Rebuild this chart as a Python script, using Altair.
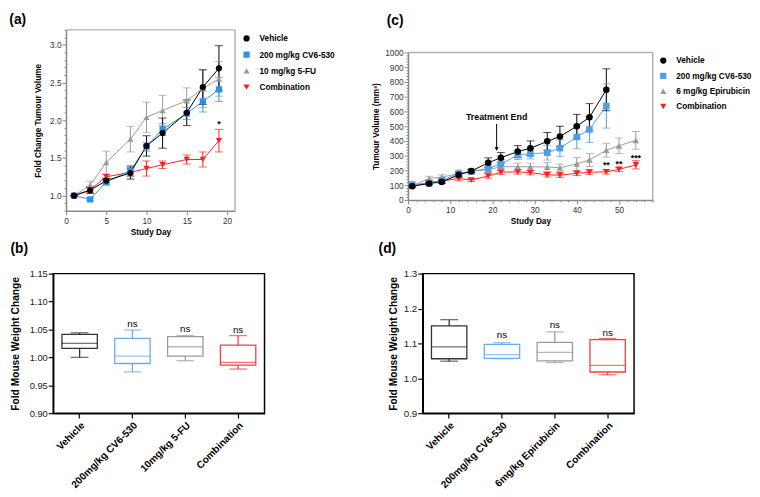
import altair as alt
import pandas as pd

FONT = "Liberation Sans"

# ---------------- Panel (a): fold change tumour volume ----------------
groups_a = ["Vehicle", "200 mg/kg CV6-530", "10 mg/kg 5-FU", "Combination"]
days_a = [1, 3, 5, 8, 10, 12, 15, 17, 19]
veh_a = [1.00, 1.07, 1.20, 1.30, 1.66, 1.83, 2.10, 2.44, 2.69]
veh_a_sem = [0.0, 0.04, 0.03, 0.08, 0.135, 0.20, 0.17, 0.23, 0.30]
cv6_a = [1.00, 0.95, 1.18, 1.33, 1.65, 1.88, 2.09, 2.25, 2.41]
cv6_a_sem = [0.0, 0.02, 0.04, 0.07, 0.06, 0.08, 0.08, 0.14, 0.16]
fu_a = [1.00, 1.14, 1.44, 1.75, 2.04, 2.13, 2.26, 2.42, 2.55]
fu_a_sem = [0.0, 0.05, 0.15, 0.17, 0.20, 0.20, 0.17, 0.25, 0.23]
comb_a = [1.00, 1.08, 1.25, 1.31, 1.36, 1.41, 1.48, 1.48, 1.73]
comb_a_sem = [0.0, 0.04, 0.03, 0.05, 0.10, 0.05, 0.06, 0.10, 0.15]
star_a_day = [19]
star_a_y = [1.95]
star_a_txt = ["*"]
xdom_a = [0, 21]
ydom_a = [0.8, 3.2]
xticks_a = [0, 5, 10, 15, 20]
yticks_a = [1.0, 1.5, 2.0, 2.5, 3.0]
yminor_a = [0.8, 0.9, 1.1, 1.2, 1.3, 1.4, 1.6, 1.7, 1.8, 1.9, 2.1, 2.2, 2.3, 2.4,
            2.6, 2.7, 2.8, 2.9, 3.1, 3.2]

# ---------------- Panel (c): tumour volume ----------------
groups_c = ["Vehicle", "200 mg/kg CV6-530", "6 mg/kg Epirubicin", "Combination"]
days_c_short = [1, 5, 8, 12, 15, 19, 22, 26, 29, 33, 36, 40, 43, 47]
days_c_long = [1, 5, 8, 12, 15, 19, 22, 26, 29, 33, 36, 40, 43, 47, 50, 54]
veh_c = [93, 111, 122, 170, 195, 252, 286, 328, 350, 397, 430, 500, 560, 747]
veh_c_sem = [5, 8, 10, 15, 10, 33, 35, 40, 50, 60, 70, 80, 93, 142]
cv6_c = [104, 111, 133, 178, 193, 213, 244, 304, 313, 320, 351, 427, 478, 637]
cv6_c_sem = [5, 8, 10, 12, 12, 25, 30, 30, 35, 50, 55, 80, 88, 150]
epi_c = [95, 145, 155, 178, 195, 205, 225, 225, 225, 223, 218, 244, 271, 337, 367, 404]
epi_c_sem = [5, 15, 15, 25, 15, 20, 25, 25, 25, 30, 25, 43, 44, 47, 53, 60]
comb_c = [95, 118, 128, 145, 135, 162, 188, 190, 185, 170, 168, 180, 188, 190, 207, 238]
comb_c_sem = [5, 10, 10, 15, 10, 15, 15, 15, 15, 15, 15, 15, 15, 15, 15, 28]
star_c_day = [47, 50, 54]
star_c_y = [235, 245, 285]
star_c_txt = ["**", "**", "***"]
arrow_day = [21]
arrow_top = [515]
arrow_tip = [345]
arrow_label_y = [560]
arrow_label = ["Treatment End"]
xdom_c = [0, 58]
ydom_c = [0, 1000]
xticks_c = [0, 10, 20, 30, 40, 50]
yticks_c = [0, 100, 200, 300, 400, 500, 600, 700, 800, 900, 1000]
xminor_c = [2, 4, 6, 8, 12, 14, 16, 18, 22, 24, 26, 28, 32, 34, 36, 38, 42, 44, 46, 48,
            52, 54, 56, 58]
yminor_c = [v for v in range(20, 1000, 20) if v % 100 != 0]

# ---------------- Panel (b): box plots ----------------
cats_b = ["Vehicle", "200mg/kg CV6-530", "10mg/kg 5-FU", "Combination"]
lo_b = [1.000, 0.974, 0.994, 0.979]
q1_b = [1.016, 0.989, 1.002, 0.986]
med_b = [1.025, 1.002, 1.019, 0.991]
q3_b = [1.041, 1.034, 1.037, 1.022]
hi_b = [1.044, 1.049, 1.039, 1.039]
ns_b_y = [None, 1.060, 1.050, 1.049]

# ---------------- Panel (d): box plots ----------------
cats_d = ["Vehicle", "200mg/kg CV6-530", "6mg/kg Epirubicin", "Combination"]
lo_d = [1.049, 1.056, 1.045, 1.010]
q1_d = [1.056, 1.057, 1.050, 1.018]
med_d = [1.090, 1.068, 1.074, 1.037]
q3_d = [1.150, 1.097, 1.103, 1.111]
hi_d = [1.168, 1.102, 1.133, 1.114]
ns_d_y = [None, 1.125, 1.152, 1.130]

colors_a = ["#000000", "#2a8ff0", "#9a9a9a", "#ff1f1f"]
colors_c = ["#000000", "#4f9ee8", "#9a9a9a", "#ff1f1f"]
box_colors = ["#333333", "#6aaaf0", "#9a9a9a", "#ff3b3b"]
shapes = ["circle", "square", "triangle-up", "triangle-down"]
FRAME_GRAY = "#b0b0b0"
AXIS_GRAY = "#888888"


def series_df(groups, days_list, means, sems):
    rows = []
    # reversed so that Vehicle is drawn on top
    for g, d, m, s in reversed(list(zip(groups, days_list, means, sems))):
        for di, mi, si in zip(d, m, s):
            rows.append({"day": di, "group": g, "mean": mi, "lo": mi - si, "hi": mi + si})
    return pd.DataFrame(rows)


def line_panel(df, groups, colors, xdom, xrange, xvals, xminor, ydom, yrange, yvals, yminor,
               yfmt, ytitle, yoffset, legx, legy, rowpad, ytitle_pad, stars, size, extra=None):
    xax = alt.Axis(values=xvals, title="Study Day", grid=False, labelFlush=False, orient="bottom",
                   labelFont=FONT, labelFontSize=8.4, labelColor="#333",
                   titleFont=FONT, titleFontSize=8.4, titleFontWeight="bold", titleColor="#000",
                   domainColor=AXIS_GRAY, domainWidth=1.5, tickColor=AXIS_GRAY, tickSize=4,
                   labelPadding=2, titlePadding=3, labelOverlap=False)
    yax = alt.Axis(values=yvals, format=yfmt, title=ytitle, grid=False, labelFlush=False,
                   orient="left", labelFont=FONT, labelFontSize=8.4, labelColor="#333",
                   titleFont=FONT, titleFontSize=8.4, titleFontWeight="bold", titleColor="#000",
                   domainColor=AXIS_GRAY, domainWidth=1.5, tickColor=AXIS_GRAY, tickSize=4,
                   labelPadding=1, titlePadding=ytitle_pad, labelOverlap=False, offset=yoffset)
    xs = alt.Scale(domain=xdom, nice=False, zero=False, range=xrange)
    ys = alt.Scale(domain=ydom, nice=False, zero=False, range=yrange)

    def X(f="day"):
        return alt.X(f + ":Q", scale=xs, axis=xax)

    def Y(f):
        return alt.Y(f + ":Q", scale=ys, axis=yax)

    leg = alt.Legend(orient="none", legendX=legx, legendY=legy, title=None,
                     labelFont=FONT, labelFontSize=8.4, labelFontWeight="bold",
                     labelColor="#000", symbolSize=40, rowPadding=rowpad,
                     labelOffset=9, padding=0)
    c_leg = alt.Color("group:N", scale=alt.Scale(domain=groups, range=colors), legend=leg)
    s_leg = alt.Shape("group:N", scale=alt.Scale(domain=groups, range=shapes), legend=leg)
    # reversed domain/range: same mapping, kept apart from the legend scales
    strk = alt.Stroke("group:N", scale=alt.Scale(domain=groups[::-1], range=colors[::-1]), legend=None)
    fil = alt.Fill("group:N", scale=alt.Scale(domain=groups[::-1], range=colors[::-1]), legend=None)

    fdf = pd.DataFrame({"fx0": [xdom[0]], "fx1": [xdom[1]], "fy0": [ydom[0]], "fy1": [ydom[1]]})
    fr = alt.Chart(fdf)
    top_b = fr.mark_rule(color=FRAME_GRAY, strokeWidth=1.5).encode(x=X("fx0"), x2="fx1:Q", y=Y("fy1"))
    right_b = fr.mark_rule(color=FRAME_GRAY, strokeWidth=1.5).encode(x=X("fx1"), y=Y("fy0"), y2="fy1:Q")

    base = alt.Chart(df)
    lines = base.mark_line(strokeWidth=1).encode(x=X(), y=Y("mean"), stroke=strk, detail="group:N")
    rules = base.mark_rule(strokeWidth=1).encode(x=X(), y=Y("lo"), y2="hi:Q", stroke=strk)
    cap_lo = base.mark_tick(orient="horizontal", size=8, thickness=1).encode(x=X(), y=Y("lo"), fill=fil)
    cap_hi = base.mark_tick(orient="horizontal", size=8, thickness=1).encode(x=X(), y=Y("hi"), fill=fil)
    pts = base.mark_point(filled=True, size=size, opacity=1).encode(
        x=X(), y=Y("mean"), color=c_leg, shape=s_leg)
    sdf = pd.DataFrame({"day": stars[0], "y": stars[1], "t": stars[2]})
    st = alt.Chart(sdf).mark_text(font=FONT, fontSize=9, fontWeight="bold", color="#000",
                                  baseline="middle").encode(x=X(), y=Y("y"), text="t:N")
    layers = [top_b, right_b, lines, rules, cap_lo, cap_hi, pts, st]
    if extra is not None:
        layers += extra(X, Y)
    main = alt.layer(*layers)

    # minor ticks: an extra, label-less axis on the same scales
    mx = alt.Axis(values=xminor, labels=False, title=None, domain=False, grid=False,
                  orient="bottom", tickColor=AXIS_GRAY, tickSize=2, tickWidth=1) if xminor else xax
    my = alt.Axis(values=yminor, labels=False, title=None, domain=False, grid=False,
                  orient="left", tickColor=AXIS_GRAY, tickSize=2, tickWidth=1, offset=yoffset)
    minor = fr.mark_point(opacity=0).encode(
        x=alt.X("fx0:Q", scale=xs, axis=mx), y=alt.Y("fy0:Q", scale=ys, axis=my))
    res = dict(y="independent")
    if xminor:
        res["x"] = "independent"
    return alt.layer(main, minor).resolve_axis(**res)


def panel_title(text, dx, offset):
    return alt.TitleParams(text, anchor="start", frame="bounds", dx=dx, offset=offset,
                           font=FONT, fontSize=14, fontWeight="bold", color="#000")


NOFRAME = alt.ViewBackground(stroke="transparent")

# ----- chart (a): view 185 wide, data drawn in x pixels 13..185
df_a = series_df(groups_a, [days_a] * 4, [veh_a, cv6_a, fu_a, comb_a],
                 [veh_a_sem, cv6_a_sem, fu_a_sem, comb_a_sem])
chart_a = line_panel(df_a, groups_a, colors_a, xdom_a, [13, 185], xticks_a, None,
                     ydom_a, [184, 0], yticks_a, yminor_a, ".1f",
                     "Fold Change Tumour Volume", -13, 192.5, 4.5, 7.5, 7,
                     (star_a_day, star_a_y, star_a_txt), 40).properties(
    width=185, height=184, title=panel_title("(a)", -25, 2), view=NOFRAME)


# ----- chart (c): view 173 high, data drawn in y pixels 23..173
def arrow_layers(X, Y):
    adf = pd.DataFrame({"day": arrow_day, "top": arrow_top, "tip": arrow_tip,
                        "ly": arrow_label_y, "lab": arrow_label})
    a_rule = alt.Chart(adf).mark_rule(color="#000", strokeWidth=1).encode(
        x=X(), y=Y("top"), y2="tip:Q")
    a_head = alt.Chart(adf).mark_point(shape="triangle-down", filled=True, size=18,
                                       color="#000", opacity=1).encode(x=X(), y=Y("tip"))
    a_text = alt.Chart(adf).mark_text(font=FONT, fontSize=9, fontWeight="bold",
                                      color="#000", baseline="middle").encode(
        x=X(), y=Y("ly"), text="lab:N")
    return [a_rule, a_head, a_text]


df_c = series_df(groups_c, [days_c_short, days_c_short, days_c_long, days_c_long],
                 [veh_c, cv6_c, epi_c, comb_c], [veh_c_sem, cv6_c_sem, epi_c_sem, comb_c_sem])
chart_c = line_panel(df_c, groups_c, colors_c, xdom_c, [0, 249], xticks_c, xminor_c,
                     ydom_c, [173, 23], yticks_c, yminor_c, "d",
                     "Tumour Volume (mm³)", 0, 255.5, 27, 6.6, 4,
                     (star_c_day, star_c_y, star_c_txt), 45, extra=arrow_layers).properties(
    width=249, height=173, title=panel_title("(c)", 15, 2), view=NOFRAME)


# ----- box panels
def box_panel(cats, lo, q1, med, q3, hi, ns_y, ydom, yvals, yfmt, ylabsize, ytpad,
              label, dx):
    df = pd.DataFrame({"cat": cats, "lo": lo, "q1": q1, "med": med, "q3": q3, "hi": hi,
                       "ns": ns_y})
    xax = alt.Axis(title=None, labelAngle=-45, labelFont=FONT, labelFontSize=10.2,
                   labelFontWeight="bold", labelColor="#000", domainColor="#000",
                   domainWidth=1.5, tickColor="#000", tickSize=5, tickWidth=1.2, labelPadding=2)
    yax = alt.Axis(values=yvals, format=yfmt, title="Fold Mouse Weight Change", grid=False,
                   labelFont=FONT, labelFontSize=ylabsize, labelColor="#222",
                   titleFont=FONT, titleFontSize=10.4, titleFontWeight="bold", titleColor="#000",
                   domainColor="#000", domainWidth=1.5, tickColor="#000", tickSize=5,
                   tickWidth=1.2, labelPadding=1, titlePadding=ytpad, labelFlush=False,
                   labelOverlap=False)
    xs = alt.Scale(domain=cats, paddingInner=0, paddingOuter=0)
    ys = alt.Scale(domain=ydom, nice=False, zero=False)

    def X():
        return alt.X("cat:N", sort=cats, scale=xs, axis=xax)

    def Y(f):
        return alt.Y(f + ":Q", scale=ys, axis=yax)

    col = alt.Color("cat:N", scale=alt.Scale(domain=cats, range=box_colors), legend=None)
    scol = alt.Stroke("cat:N", scale=alt.Scale(domain=cats, range=box_colors), legend=None)
    base = alt.Chart(df)
    w_hi = base.mark_rule(strokeWidth=1.3).encode(x=X(), y=Y("q3"), y2="hi:Q", color=col)
    w_lo = base.mark_rule(strokeWidth=1.3).encode(x=X(), y=Y("lo"), y2="q1:Q", color=col)
    box = base.mark_bar(size=36, fill="white", strokeWidth=1.3).encode(
        x=X(), y=Y("q1"), y2="q3:Q", stroke=scol)
    medt = base.mark_tick(size=36, thickness=1.3, orient="horizontal").encode(x=X(), y=Y("med"), color=col)
    c_hi = base.mark_tick(size=18, thickness=1.3, orient="horizontal").encode(x=X(), y=Y("hi"), color=col)
    c_lo = base.mark_tick(size=18, thickness=1.3, orient="horizontal").encode(x=X(), y=Y("lo"), color=col)
    txt = base.transform_filter("isValid(datum.ns)").mark_text(
        font=FONT, fontSize=10, color="#000", baseline="middle").encode(
        x=X(), y=Y("ns"), text=alt.value("ns"))
    return alt.layer(w_hi, w_lo, box, medt, c_hi, c_lo, txt).properties(
        width=215, height=142,
        title=panel_title(label, dx, 13),
        view=alt.ViewBackground(stroke="#000", strokeWidth=1.5),
    )


chart_b = box_panel(cats_b, lo_b, q1_b, med_b, q3_b, hi_b, ns_b_y, [0.9, 1.15],
                    [0.9, 0.95, 1.0, 1.05, 1.1, 1.15], ".2f", 9.5, 9, "(b)", 0)
chart_d = box_panel(cats_d, lo_d, q1_d, med_d, q3_d, hi_d, ns_d_y, [0.9, 1.3],
                    [0.9, 1.0, 1.1, 1.2, 1.3], ".1f", 10, 5, "(d)", -10)

ind = dict(color="independent", shape="independent", stroke="independent", fill="independent")
row1 = alt.hconcat(chart_a, chart_c, spacing=36).resolve_scale(**ind)
row2 = alt.hconcat(chart_b, chart_d, spacing=114).resolve_scale(**ind)

chart = alt.vconcat(row1, row2, spacing=4).properties(
    padding=0, background="white"
).configure(font=FONT)

chart.save("out.html", embed_options={"renderer": "svg", "actions": False})
